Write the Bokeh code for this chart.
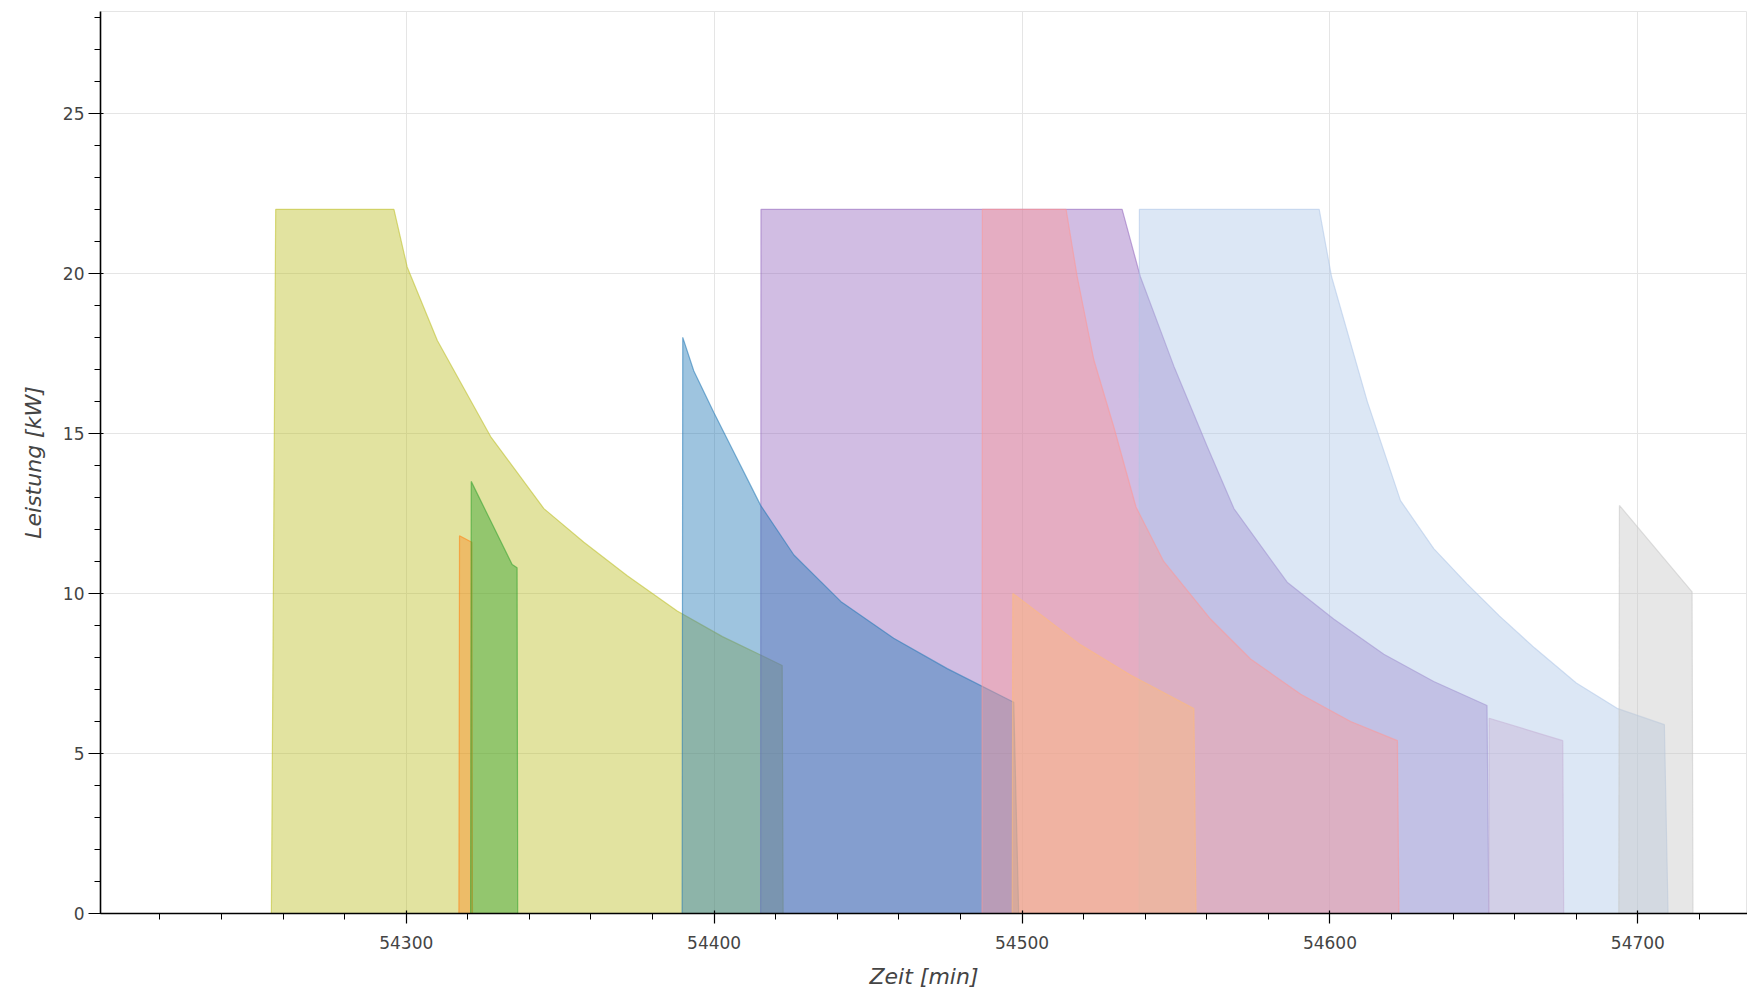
from bokeh.plotting import figure
from bokeh.models import Range1d, SingleIntervalTicker
from bokeh.embed import file_html
from bokeh.resources import INLINE

# Charging sessions: time [min] and power [kW]
olive_t = [54256.2, 54257.6, 54296.0, 54300.3, 54310.1, 54327.4, 54344.7, 54357.7, 54371.8, 54388.0, 54402.7, 54422.1, 54422.4]
olive_p = [0, 22, 22, 20.2, 17.9, 14.9, 12.65, 11.6, 10.55, 9.45, 8.65, 7.75, 0]

orange_t = [54317.1, 54317.3, 54321.3, 54321.5]
orange_p = [0, 11.8, 11.6, 0]

green_t = [54320.9, 54321.1, 54334.4, 54336.0, 54336.2]
green_p = [0, 13.5, 10.9, 10.8, 0]

purple_t = [54415.1, 54415.2, 54532.5, 54538.4, 54549.3, 54560.1, 54568.8, 54586.1, 54601.2, 54617.5, 54633.7, 54651.0, 54651.6]
purple_p = [0, 22, 22, 19.9, 17.1, 14.6, 12.65, 10.35, 9.2, 8.1, 7.25, 6.5, 0]

blue_t = [54389.6, 54389.8, 54393.4, 54399.9, 54415.1, 54425.9, 54441.1, 54458.3, 54475.7, 54497.3, 54498.9]
blue_p = [0, 18.0, 16.95, 15.65, 12.75, 11.2, 9.75, 8.6, 7.65, 6.6, 0]

lightblue_t = [54538.0, 54538.1, 54596.5, 54600.5, 54612.1, 54622.9, 54633.7, 54644.5, 54655.0, 54666.4, 54680.0, 54693.5, 54708.6, 54709.8]
lightblue_p = [0, 22, 22, 19.9, 16.0, 12.9, 11.4, 10.3, 9.3, 8.3, 7.2, 6.4, 5.9, 0]

lavender_t = [54651.6, 54651.7, 54675.6, 54675.9]
lavender_p = [0, 6.1, 5.4, 0]

gray_t = [54693.8, 54694.0, 54717.6, 54717.9]
gray_p = [0, 12.75, 10.05, 0]

pink_t = [54487.0, 54487.1, 54514.3, 54517.9, 54523.3, 54529.8, 54537.0, 54546.0, 54561.2, 54574.2, 54590.5, 54606.7, 54621.9, 54622.4]
pink_p = [0, 22, 22, 19.9, 17.3, 15.2, 12.7, 11.0, 9.2, 7.95, 6.85, 6.0, 5.4, 0]

salmon_t = [54496.8, 54497.0, 54518.9, 54535.2, 54555.8, 54556.5]
salmon_p = [0, 10.0, 8.4, 7.45, 6.4, 0]

sessions = [
    (olive_t, olive_p, "#bcbd22", 0.43),
    (orange_t, orange_p, "#ff7f0e", 0.38),
    (green_t, green_p, "#2ca02c", 0.43),
    (purple_t, purple_p, "#9467bd", 0.43),
    (blue_t, blue_p, "#1f77b4", 0.43),
    (lightblue_t, lightblue_p, "#aec7e8", 0.43),
    (lavender_t, lavender_p, "#c5b0d5", 0.43),
    (gray_t, gray_p, "#c7c7c7", 0.43),
    (pink_t, pink_p, "#ff9896", 0.43),
    (salmon_t, salmon_p, "#ffbb78", 0.43),
]

p = figure(width=1747, height=994,
           x_range=Range1d(54200.7, 54735.6), y_range=Range1d(0, 28.18),
           output_backend="svg", toolbar_location=None,
           min_border_left=100, min_border_right=0, min_border_top=11, min_border_bottom=81,
           x_axis_label="Zeit [min]", y_axis_label="Leistung [kW]")

for t, pw, c, a in sessions:
    p.patch(t, pw, fill_color=c, fill_alpha=a, line_color=c, line_alpha=0.55, line_width=1.2)

p.xaxis.ticker = SingleIntervalTicker(interval=100, num_minor_ticks=5)
p.yaxis.ticker = SingleIntervalTicker(interval=5, num_minor_ticks=5)

p.xgrid.grid_line_color = "#e5e5e5"
p.ygrid.grid_line_color = "#e5e5e5"
p.outline_line_color = "#e5e5e5"

for ax in (p.xaxis[0], p.yaxis[0]):
    ax.axis_line_color = "black"
    ax.axis_line_width = 1.6
    ax.major_tick_line_color = "black"
    ax.minor_tick_line_color = "black"
    ax.major_tick_line_width = 1.2
    ax.minor_tick_line_width = 1.0
    ax.major_tick_in = 3
    ax.minor_tick_in = 0
    ax.minor_tick_out = 6
    ax.major_label_text_font = "DejaVu Sans"
    ax.major_label_text_font_size = "17px"
    ax.major_label_text_color = "#444444"
    ax.axis_label_text_font = "DejaVu Sans"
    ax.axis_label_text_font_size = "22px"
    ax.axis_label_text_font_style = "italic"
    ax.axis_label_text_color = "#444444"

p.xaxis.major_tick_out = 10
p.yaxis.major_tick_out = 12
p.xaxis.major_label_standoff = 12
p.yaxis.major_label_standoff = 4
p.xaxis.axis_label_standoff = 12
p.yaxis.axis_label_standoff = 14

open("out.html", "w").write(file_html(p, INLINE))
